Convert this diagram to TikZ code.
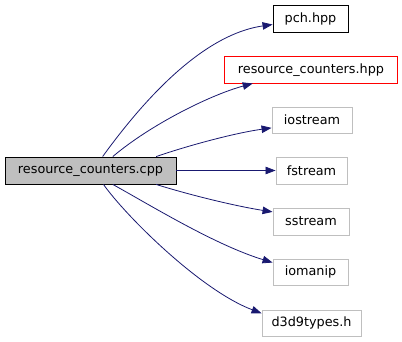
\documentclass[tikz,border=0pt]{standalone}
\usepackage{fontspec}
\setmainfont{DejaVu Sans}
\usetikzlibrary{arrows.meta}
\definecolor{edgeblue}{HTML}{191970}
\definecolor{boxgray}{HTML}{BFBFBF}
\definecolor{linkred}{rgb}{1,0,0}
\begin{document}
\begin{tikzpicture}[x=1pt,y=-1pt,
  every node/.style={font=\fontsize{12.8}{15}\selectfont, inner sep=0pt, line width=0.9pt},
  filebox/.style={draw=boxgray, rectangle},
  docbox/.style={draw=black, rectangle},
  redframe/.style={draw=linkred, line width=1pt},
  mainbox/.style={draw=black, fill=boxgray, rectangle},
  dep/.style={draw=edgeblue, line width=0.8pt, -{Triangle[length=10pt,width=7.5pt]}}
]
\useasboundingbox (0,0) rectangle (402,341);

% source file and its includes
\node[mainbox, minimum width=171pt, minimum height=27pt] (main) at (90.5,170.5) {resource\_counters.cpp};
\node[docbox, minimum width=75pt, minimum height=27pt] (pch) at (310.5,18.5) {pch.hpp};
\node[rectangle, minimum width=172pt, minimum height=26pt] (rch) at (311,70) {resource\_counters.hpp};
\draw[redframe] (rch.north west) rectangle (rch.south east);
\node[filebox, minimum width=80pt, minimum height=26pt] (ios) at (312,120) {iostream};
\node[filebox, minimum width=71pt, minimum height=27pt] (fst) at (311.5,170.5) {fstream};
\node[filebox, minimum width=76pt, minimum height=27pt] (sst) at (311,221.5) {sstream};
\node[filebox, minimum width=75pt, minimum height=26pt] (iom) at (310.5,272) {iomanip};
\node[filebox, minimum width=99pt, minimum height=26pt] (d3d) at (311.5,323) {d3d9types.h};

% include edges
\draw[dep] (main.49.6) .. controls (140,105) and (200,35) .. (pch.189.8);
\draw[dep] (main.32.1) .. controls (150,125) and (210,95) .. (rch.193.8);
\draw[dep] (main.12.4) .. controls (190,145) and (235,133) .. (ios.191.3);
\draw[dep] (main.east) -- (fst.west);
\draw[dep] (main.-12.8) .. controls (190,195) and (235,206) .. (sst.166);
\draw[dep] (main.-32.1) .. controls (150,205) and (215,245) .. (iom.166.5);
\draw[dep] (main.-47.2) .. controls (125,215) and (200,290) .. (d3d.169);
\end{tikzpicture}
\end{document}
